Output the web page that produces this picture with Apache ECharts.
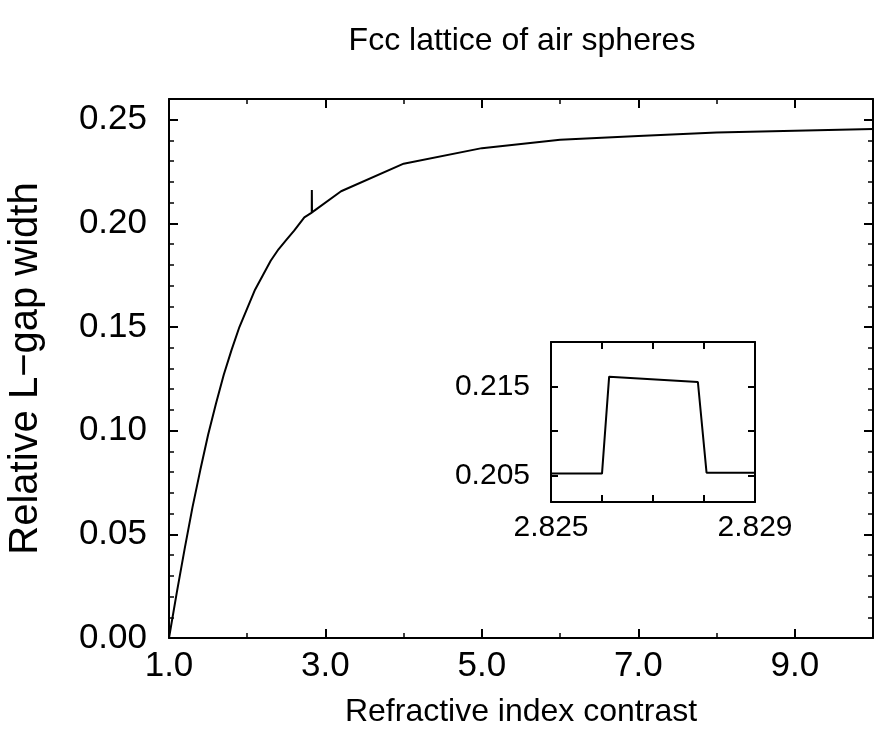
<!DOCTYPE html>
<html>
<head>
<meta charset="utf-8">
<script src="https://cdn.jsdelivr.net/npm/echarts@6/dist/echarts.min.js"></script>
<style>
html,body{margin:0;padding:0;background:#fff;}
#chart{width:874px;height:740px;}
</style>
</head>
<body>
<div id="chart"></div>
<script>
// Main curve: refractive index contrast vs relative L-gap width
const mainX = [1.0, 1.1, 1.2, 1.3, 1.4, 1.5, 1.6, 1.7, 1.8, 1.9, 2.0, 2.1, 2.2, 2.3, 2.4, 2.5, 2.6, 2.73, 2.825, 2.826, 2.82614, 2.82788, 2.82805, 2.829, 3.2, 4.0, 5.0, 6.0, 7.0, 8.0, 9.0, 10.0];
const mainY = [0.0, 0.022, 0.043, 0.063, 0.081, 0.098, 0.113, 0.127, 0.139, 0.150, 0.159, 0.168, 0.175, 0.182, 0.1875, 0.192, 0.1965, 0.2029, 0.2052, 0.2052, 0.2161, 0.2155, 0.2053, 0.2053, 0.2155, 0.2288, 0.2363, 0.2403, 0.2422, 0.2438, 0.2447, 0.2455];
// Inset (zoom around the spike)
const insetX = [2.825, 2.826, 2.82614, 2.82788, 2.82805, 2.829];
const insetY = [0.2052, 0.2052, 0.2161, 0.2155, 0.2053, 0.2053];
const insetXTicks = [2.825, 2.826, 2.827, 2.828, 2.829];
const insetXLabels = [2.825, 2.829];
const insetYTicks = [0.205, 0.210, 0.215];
const insetYLabels = [0.205, 0.215];

const FONT = 'Liberation Sans, Arial, Helvetica, sans-serif';
const black = '#000';

const chart = echarts.init(document.getElementById('chart'), null, {renderer: 'canvas'});

const lineStyle = {color: black, width: 2};
const minorStyle = {color: black, width: 1.5};

const option = {
  animation: false,
  backgroundColor: '#fff',
  title: {
    text: 'Fcc lattice of air spheres',
    left: 517, top: 20, textAlign: 'center',
    textStyle: {fontFamily: FONT, fontSize: 32, fontWeight: 'normal', color: black}
  },
  grid: [
    {left: 169, top: 99, right: 1, bottom: 102, show: false, containLabel: false, outerBoundsMode: 'none'},
    {left: 551, top: 342, right: 119, bottom: 238, show: true, backgroundColor: '#fff', borderWidth: 0, containLabel: false, outerBoundsMode: 'none'}
  ],
  xAxis: [
    {
      type: 'value', gridIndex: 0, position: 'bottom', min: 1, max: 10, interval: 2,
      name: 'Refractive index contrast', nameLocation: 'middle', nameGap: 58,
      nameTextStyle: {fontFamily: FONT, fontSize: 32, color: black},
      axisLine: {show: true, onZero: false, lineStyle: lineStyle},
      axisTick: {show: true, inside: true, length: 9, lineStyle: lineStyle},
      minorTick: {show: true, splitNumber: 2, length: 5, lineStyle: minorStyle},
      axisLabel: {fontFamily: FONT, fontSize: 35, color: black, margin: 11, formatter: v => v.toFixed(1), showMaxLabel: false},
      splitLine: {show: false}
    },
    {
      type: 'value', gridIndex: 0, position: 'top', min: 1, max: 10, interval: 2,
      axisLine: {show: true, onZero: false, lineStyle: lineStyle},
      axisTick: {show: true, inside: true, length: 9, lineStyle: lineStyle},
      minorTick: {show: true, splitNumber: 2, length: 5, lineStyle: minorStyle},
      axisLabel: {show: false},
      splitLine: {show: false}
    },
    {
      type: 'value', gridIndex: 1, position: 'bottom', min: 2.825, max: 2.829,
      axisLine: {show: true, onZero: false, lineStyle: lineStyle},
      axisTick: {show: true, inside: true, length: 7, lineStyle: lineStyle, customValues: insetXTicks},
      axisLabel: {fontFamily: FONT, fontSize: 30, color: black, margin: 11, customValues: insetXLabels, formatter: v => v.toFixed(3)},
      splitLine: {show: false}
    },
    {
      type: 'value', gridIndex: 1, position: 'top', min: 2.825, max: 2.829,
      axisLine: {show: true, onZero: false, lineStyle: lineStyle},
      axisTick: {show: true, inside: true, length: 7, lineStyle: lineStyle, customValues: insetXTicks},
      axisLabel: {show: false},
      splitLine: {show: false}
    }
  ],
  yAxis: [
    {
      type: 'value', gridIndex: 0, position: 'left', min: 0, max: 0.26, interval: 0.05,
      name: 'Relative L\u2212gap width', nameLocation: 'middle', nameGap: 123, nameRotate: 90,
      nameTextStyle: {fontFamily: FONT, fontSize: 40, color: black},
      axisLine: {show: true, onZero: false, lineStyle: lineStyle},
      axisTick: {show: true, inside: true, length: 9, lineStyle: lineStyle},
      minorTick: {show: true, splitNumber: 5, length: 5, lineStyle: minorStyle},
      axisLabel: {fontFamily: FONT, fontSize: 35, color: black, margin: 22, formatter: v => v.toFixed(2), showMaxLabel: false},
      splitLine: {show: false}
    },
    {
      type: 'value', gridIndex: 0, position: 'right', min: 0, max: 0.26, interval: 0.05,
      axisLine: {show: true, onZero: false, lineStyle: lineStyle},
      axisTick: {show: true, inside: true, length: 9, lineStyle: lineStyle},
      minorTick: {show: true, splitNumber: 5, length: 5, lineStyle: minorStyle},
      axisLabel: {show: false},
      splitLine: {show: false}
    },
    {
      type: 'value', gridIndex: 1, position: 'left', min: 0.202, max: 0.22,
      axisLine: {show: true, onZero: false, lineStyle: lineStyle},
      axisTick: {show: true, inside: true, length: 7, lineStyle: lineStyle, customValues: insetYTicks},
      axisLabel: {fontFamily: FONT, fontSize: 30, color: black, margin: 21, customValues: insetYLabels, formatter: v => v.toFixed(3)},
      splitLine: {show: false}
    },
    {
      type: 'value', gridIndex: 1, position: 'right', min: 0.202, max: 0.22,
      axisLine: {show: true, onZero: false, lineStyle: lineStyle},
      axisTick: {show: true, inside: true, length: 7, lineStyle: lineStyle, customValues: insetYTicks},
      axisLabel: {show: false},
      splitLine: {show: false}
    }
  ],
  series: [
    {
      type: 'line', xAxisIndex: 0, yAxisIndex: 0,
      data: mainX.map((x, i) => [x, mainY[i]]),
      showSymbol: false, symbol: 'none', clip: true,
      lineStyle: {color: black, width: 2}
    },
    {
      type: 'line', xAxisIndex: 2, yAxisIndex: 2,
      data: insetX.map((x, i) => [x, insetY[i]]),
      showSymbol: false, symbol: 'none', clip: true,
      lineStyle: {color: black, width: 2}
    }
  ]
};
chart.setOption(option);
</script>
</body>
</html>
